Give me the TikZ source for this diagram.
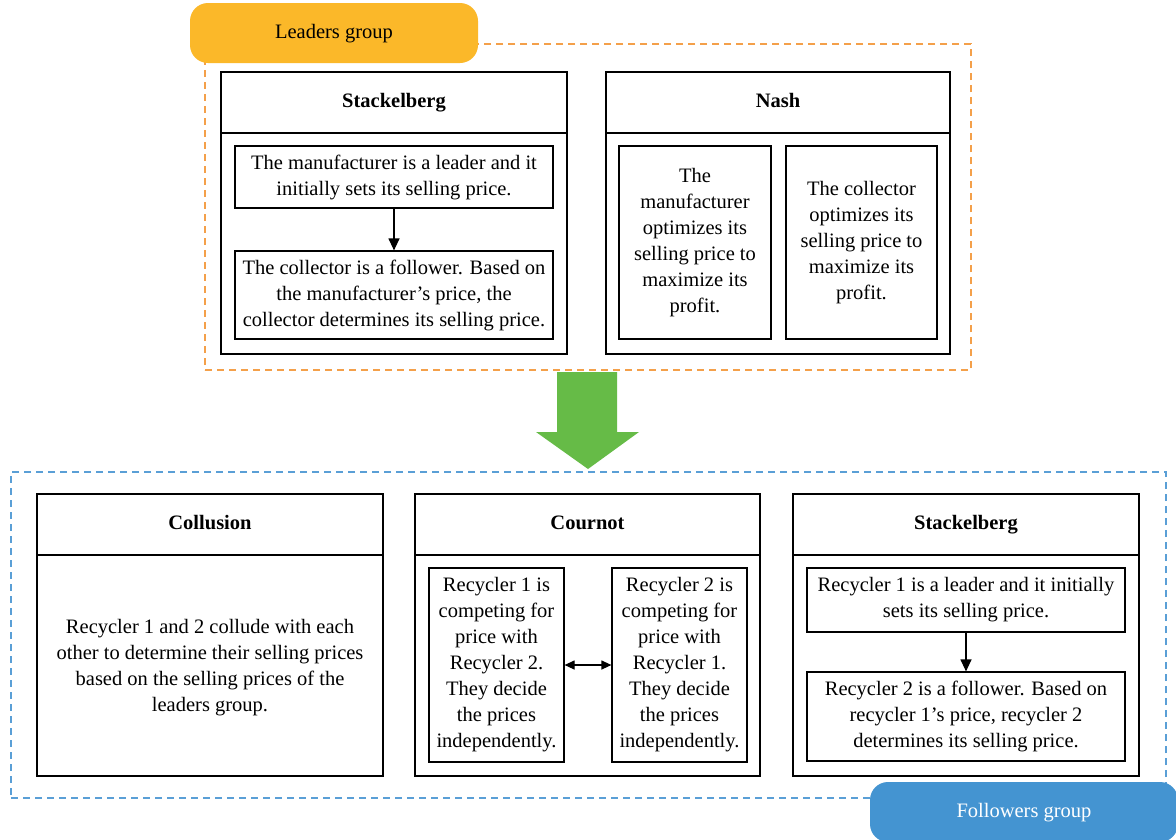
\documentclass[tikz,border=0pt]{standalone}
\usepackage{fontspec}
\setmainfont{Liberation Serif}
\usetikzlibrary{arrows.meta}
\definecolor{leadline}{HTML}{F4A04A}
\definecolor{leadtab}{HTML}{FBB829}
\definecolor{followline}{HTML}{5A9FD6}
\definecolor{followtab}{HTML}{4494D1}
\definecolor{bigarrow}{HTML}{66BB47}
\newcommand\diagfont{\fontsize{20.5}{26}\selectfont}
\tikzset{
  panel/.style={draw, line width=1.3pt, minimum width=346pt, minimum height=282pt, inner sep=0pt},
  paneltitle/.style={draw, line width=1.3pt, anchor=north, minimum width=346pt, minimum height=61pt, inner sep=0pt,
    text height=13pt, text depth=4pt, font=\diagfont\bfseries},
  textbox/.style={draw, line width=1.2pt, align=center, inner sep=0pt},
  groupframe/.style={draw, dash pattern=on 7pt off 5pt, line width=1.2pt, minimum width=#1, minimum height=326pt, inner sep=0pt},
  grouptab/.style={rounded corners=18pt, minimum height=60pt, inner sep=0pt, text height=13pt, text depth=3pt},
  link/.style={-{Triangle[length=12pt,width=11pt]}, line width=1.2pt},
  mutual/.style={{Triangle[length=10pt,width=9pt]}-{Triangle[length=10pt,width=9pt]}, line width=1.2pt}
}

\begin{document}
\begin{tikzpicture}[x=1pt, y=-1pt, font=\diagfont]
  \useasboundingbox[fill=white] (0,0) rectangle (1176,839);

  % leaders group
  \node[groupframe=766pt, draw=leadline] (leaders) at (588,207) {};
  \node[grouptab, fill=leadtab, minimum width=288pt] (ltab) at (334,33) {Leaders group};

  \node[panel] (stk) at (394,213) {};
  \node[paneltitle] (stkT) at (stk.north) {Stackelberg};
  \node[textbox, minimum width=318pt, minimum height=62pt] (stk1) at (394,177)
    {The manufacturer is a leader and it\\initially sets its selling price.};
  \node[textbox, minimum width=318pt, minimum height=88pt] (stk2) at (394,295)
    {The collector is a follower. Based on\\the manufacturer’s price, the\\collector determines its selling price.};
  \draw[link] (stk1) -- (stk2);

  \node[panel, minimum width=344pt] (nash) at (778,213) {};
  \node[paneltitle, minimum width=344pt] (nashT) at (nash.north) {Nash};
  \node[textbox, minimum width=152pt, minimum height=193pt] (nash1) at (695,242.5)
    {The\\manufacturer\\optimizes its\\selling price to\\maximize its\\profit.};
  \node[textbox, minimum width=151pt, minimum height=193pt] (nash2) at (861.5,242.5)
    {The collector\\optimizes its\\selling price to\\maximize its\\profit.};

  % transition
  \fill[bigarrow] (557,372) -- (617,372) -- (617,432) -- (639,432) -- (588,469)
    -- (536,432) -- (557,432) -- cycle;

  % followers group
  \node[groupframe=1155pt, draw=followline] (followers) at (588.5,635) {};

  \node[panel] (coll) at (210,635) {};
  \node[paneltitle] (collT) at (coll.north) {Collusion};
  \node[align=center, inner sep=0pt] (collText) at (210,668)
    {Recycler 1 and 2 collude with each\\other to determine their selling prices\\based on the selling prices of the\\leaders group.};

  \node[panel, minimum width=345pt] (cour) at (587.5,635) {};
  \node[paneltitle, minimum width=345pt] (courT) at (cour.north) {Cournot};
  \node[textbox, minimum width=135pt, minimum height=194pt] (cour1) at (496.5,665)
    {Recycler 1 is\\competing for\\price with\\Recycler 2.\\They decide\\the prices\\independently.};
  \node[textbox, minimum width=135pt, minimum height=194pt] (cour2) at (679.5,665)
    {Recycler 2 is\\competing for\\price with\\Recycler 1.\\They decide\\the prices\\independently.};
  \draw[mutual] (cour1) -- (cour2);

  \node[panel] (fstk) at (966,635) {};
  \node[paneltitle] (fstkT) at (fstk.north) {Stackelberg};
  \node[textbox, minimum width=318pt, minimum height=64pt] (fstk1) at (966,600)
    {Recycler 1 is a leader and it initially\\sets its selling price.};
  \node[textbox, minimum width=318pt, minimum height=89pt] (fstk2) at (966,716.5)
    {Recycler 2 is a follower. Based on\\recycler 1’s price, recycler 2\\determines its selling price.};
  \draw[link] (fstk1) -- (fstk2);

  \node[grouptab, fill=followtab, text=white, minimum width=308pt] (ftab) at (1024,812) {Followers group};
\end{tikzpicture}
\end{document}
